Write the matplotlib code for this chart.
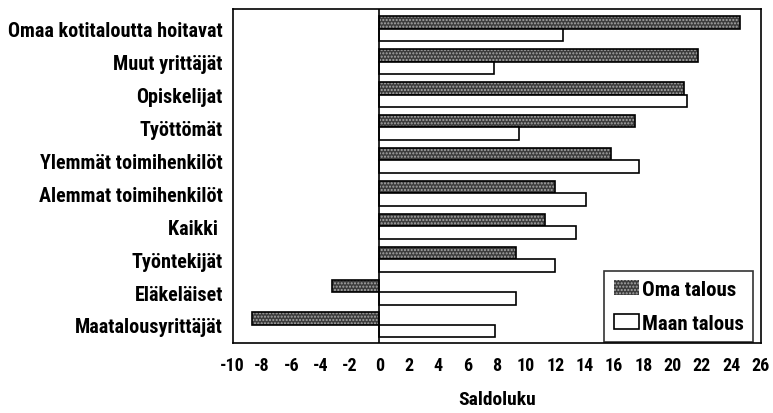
import numpy as np
import matplotlib.pyplot as plt
import matplotlib.patches as mpatches

plt.rcParams['font.family'] = ['Roboto Condensed', 'DejaVu Sans']
plt.rcParams['font.weight'] = 'bold'

#Data
categories = ['Omaa kotitaloutta hoitavat', 'Muut yrittäjät', 'Opiskelijat', 'Työttömät',
              'Ylemmät toimihenkilöt', 'Alemmat toimihenkilöt', 'Kaikki ', 'Työntekijät',
              'Eläkeläiset', 'Maatalousyrittäjät']
oma_talous = [24.6, 21.7, 20.8, 17.4, 15.8, 12.0, 11.3, 9.3, -3.2, -8.7]
maan_talous = [12.5, 7.8, 21.0, 9.5, 17.7, 14.1, 13.4, 12.0, 9.3, 7.9]
xticks = np.arange(-10, 27, 2)

fig = plt.figure(figsize=(7.73, 4.14), dpi=100)
ax = fig.add_axes([0.301, 0.169, 0.683, 0.807])

y = np.arange(len(categories))
h = 0.38
# dithered grey bars: texture first, black outline on top
ax.barh(y - h / 2, oma_talous, height=h, color='#3c3c3c', edgecolor='#a8a8a8',
        hatch='.....', linewidth=0, zorder=2)
ax.barh(y - h / 2, oma_talous, height=h, fill=False, edgecolor='black', linewidth=1.2, zorder=3)
ax.barh(y + h / 2, maan_talous, height=h, color='white', edgecolor='black', linewidth=1.2, zorder=3)

ax.axvline(0, color='black', linewidth=1.2, zorder=4)

ax.set_xlim(-10, 26)
ax.set_ylim(len(categories) - 0.45, -0.6)
ax.set_xticks(xticks)
ax.set_xticklabels([str(t) for t in xticks], fontsize=13, fontweight='bold')
ax.set_yticks(y)
ax.set_yticklabels(categories, fontsize=14.5, fontweight='bold')
ax.tick_params(length=0)
ax.tick_params(axis='x', pad=9)
ax.tick_params(axis='y', pad=7)
ax.set_xlabel('Saldoluku', fontsize=14, fontweight='bold', labelpad=12)
for s in ax.spines.values():
    s.set_linewidth(1.2)

oma_patch = mpatches.Patch(facecolor='#3c3c3c', edgecolor='#a8a8a8', hatch='.....', linewidth=0)
maan_patch = mpatches.Patch(facecolor='white', edgecolor='black', linewidth=1.2)
leg = ax.legend([oma_patch, maan_patch], ['Oma talous', 'Maan talous'], loc='lower right',
                fontsize=15, frameon=True, fancybox=False, edgecolor='black',
                handlelength=1.2, handletextpad=0.15, borderpad=0.45, labelspacing=0.7,
                borderaxespad=0, bbox_to_anchor=(0.986, 0.003))
leg.get_frame().set_linewidth(1.2)

plt.savefig('out.png', dpi=100)
